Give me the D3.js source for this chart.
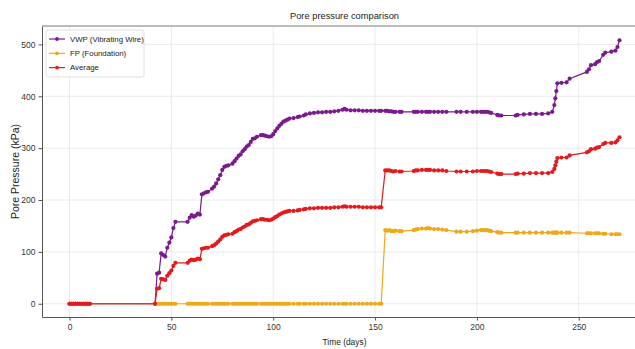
<!DOCTYPE html>
<html>
<head>
<meta charset="utf-8">
<script src="https://cdn.jsdelivr.net/npm/d3@7"></script>
<style>
  body { margin: 0; background: #fff; }
  svg { display: block; font-family: "Liberation Sans", Arial, sans-serif; }
</style>
</head>
<body>
<div id="poreChart"></div>
<script>
// sample days and readings (kPa)
var days = [0,1,2,3,4,5,6,7,8,9,10,42,43,44,45,46,47,48,49,50,51,52,
    58,59,60,61,62,63,64,65,66,67,68,70,71,72,73,74,75,76,77,78,80,81,82,83,84,85,86,87,88,89,90,91,92,
    94,95,96,97,98,99,100,101,102,103,104,105,106,107,108,110,112,113,115,116,118,120,122,124,126,128,
    130,132,134,135,136,138,140,142,144,146,148,150,152,153,
    155,156,157,158,159,160,162,163,169,170,171,173,175,176,177,179,181,183,185,
    190,192,195,198,200,202,203,204,205,206,207,210,211,212,219,220,223,226,229,232,235,237,
    238,238.5,239,239.5,241.5,244,245.5,254,255,256,258,259,260,262,263,266,268,269,270];

var vwp = [0,0,0,0,0,0,0,0,0,0,0,0,58,60,97,94,91,108,118,128,146,158,
    158,166,171,168,170,174,172,211,213,215,216,222,226,232,240,248,258,264,266,267,270,275,280,285,288,294,298,303,306,312,318,319,322,
    325,325,324,323,322,323,327,333,338,343,347,351,353,355,357,358,360,361,363,365,367,368,369,369,370,370,
    371,372,374,376,374,373,373,373,372,372,372,372,372,372,
    372,372,371,371,370,370,370,370,370,370,370,370,370,370,370,370,370,370,370,
    370,370,370,370,370,370,370,370,370,369,368,364,363,363,363,364,365,366,366,366,367,370,
    383,396,410,425,426,427,434,447,452,460,462,466,468,480,484,486,488,495,508];

var fp = [0,0,0,0,0,0,0,0,0,0,0,0,0,0,0,0,0,0,0,0,0,0,
    0,0,0,0,0,0,0,0,0,0,0,0,0,0,0,0,0,0,0,0,0,0,0,0,0,0,0,0,0,0,0,0,0,
    0,0,0,0,0,0,0,0,0,0,0,0,0,0,0,0,0,0,0,0,0,0,0,0,0,0,
    0,0,0,0,0,0,0,0,0,0,0,0,0,0,
    142,141,142,140,140,141,140,140,142,143,144,145,145,146,145,144,144,143,142,
    139,139,139,140,141,142,142,142,142,141,140,138,137,137,137,137,137,137,137,137,137,137,
    137,137,137,137,137,137,137,136,136,136,136,136,136,135,135,134,134,134,134];

var average = [0,0,0,0,0,0,0,0,0,0,0,0,29,30,48,47,46,54,59,64,73,79,
    79,83,85,84,85,87,86,106,107,108,108,111,113,116,120,124,129,132,133,134,135,138,140,143,144,147,149,152,153,156,159,160,161,
    163,163,162,162,161,162,164,167,169,172,174,176,177,178,179,179,180,181,182,183,184,184,185,185,185,185,
    186,186,187,188,187,187,187,187,186,186,186,186,186,186,
    257,257,257,256,255,256,255,255,256,257,257,258,258,258,258,257,257,257,256,
    255,255,255,255,256,256,256,256,256,255,254,251,250,250,250,251,251,252,252,252,252,254,
    260,267,274,281,282,282,286,292,294,298,299,301,302,308,310,310,311,315,321];

var seriesNames = ["VWP (Vibrating Wire)", "FP (Foundation)", "Average"];
var seriesColors = ["#7a1a8c", "#f0a818", "#e41a1c"];
var xTicks = [0, 50, 100, 150, 200, 250];
var yTicks = [0, 100, 200, 300, 400, 500];

var width = 635, height = 349;
var margin = { top: 26, right: -12, bottom: 32, left: 42 };
var plotW = width - margin.left - margin.right,
    plotH = height - margin.top - margin.bottom;

var svg = d3.select("#poreChart")
    .append("svg")
    .attr("width", width)
    .attr("height", height);

// matplotlib style 5% margins around the data
var x = d3.scaleLinear()
    .domain([-13.5, 283.5])
    .range([0, plotW]);
var y = d3.scaleLinear()
    .domain([-25.5, 535.5])
    .range([plotH, 0]);

var g = svg.append("g")
    .attr("transform", "translate(" + margin.left + "," + margin.top + ")");

svg.append("defs").append("clipPath")
    .attr("id", "plotClip")
    .append("rect")
    .attr("width", plotW)
    .attr("height", plotH);

// grid
g.append("g")
    .selectAll("line.vgrid")
    .data(xTicks)
    .join("line")
    .attr("x1", d => x(d)).attr("x2", d => x(d))
    .attr("y1", 0).attr("y2", plotH)
    .attr("stroke", "#e6e6e6").attr("stroke-width", 0.8);
g.append("g")
    .selectAll("line.hgrid")
    .data(yTicks)
    .join("line")
    .attr("x1", 0).attr("x2", plotW)
    .attr("y1", d => y(d)).attr("y2", d => y(d))
    .attr("stroke", "#e6e6e6").attr("stroke-width", 0.8);

// axes
var xAxis = g.append("g")
    .attr("transform", "translate(0," + plotH + ")")
    .call(d3.axisBottom(x).tickValues(xTicks).tickSize(3.5).tickPadding(3).tickSizeOuter(0));
var yAxis = g.append("g")
    .call(d3.axisLeft(y).tickValues(yTicks).tickSize(3.5).tickPadding(3).tickSizeOuter(0));
[xAxis, yAxis].forEach(function(a) {
    a.select(".domain").attr("stroke", "#555").attr("stroke-width", 1);
    a.selectAll(".tick line").attr("stroke", "#555");
    a.selectAll(".tick text").attr("fill", "#333").style("font-size", "8.5px");
});

// top spine
g.append("line")
    .attr("x1", 0).attr("x2", plotW)
    .attr("y1", 0).attr("y2", 0)
    .attr("stroke", "#777").attr("stroke-width", 1);

var allSeries = [vwp, fp, average];
var line = d3.line()
    .x((d, i) => x(days[i]))
    .y(d => y(d));

var plot = g.append("g").attr("clip-path", "url(#plotClip)");

allSeries.forEach(function(values, s) {
    plot.append("path")
        .datum(values)
        .attr("fill", "none")
        .attr("stroke", seriesColors[s])
        .attr("stroke-width", 1.2)
        .attr("d", line);
    plot.append("g")
        .selectAll("circle")
        .data(values)
        .join("circle")
        .attr("cx", (d, i) => x(days[i]))
        .attr("cy", d => y(d))
        .attr("r", 2.1)
        .attr("fill", seriesColors[s]);
});

// legend
var legend = g.append("g").attr("transform", "translate(4,4)");
legend.append("rect")
    .attr("width", 98).attr("height", 47)
    .attr("fill", "#fff").attr("fill-opacity", 0.85)
    .attr("stroke", "#d8d8d8").attr("stroke-width", 0.8).attr("rx", 2);
seriesNames.forEach(function(name, i) {
    var row = legend.append("g").attr("transform", "translate(0," + (9 + i * 14.3) + ")");
    row.append("line")
        .attr("x1", 3).attr("x2", 19)
        .attr("stroke", seriesColors[i]).attr("stroke-width", 1.2);
    row.append("circle")
        .attr("cx", 11).attr("r", 1.9).attr("fill", seriesColors[i]);
    row.append("text")
        .attr("x", 24).attr("dy", "0.35em")
        .style("font-size", "7.8px").attr("fill", "#222")
        .text(name);
});

// title and labels
svg.append("text")
    .attr("x", margin.left + plotW / 2).attr("y", 19)
    .attr("text-anchor", "middle")
    .style("font-size", "9.3px").attr("fill", "#222")
    .text("Pore pressure comparison");
svg.append("text")
    .attr("x", margin.left + plotW / 2).attr("y", 345)
    .attr("text-anchor", "middle")
    .style("font-size", "8.4px").attr("fill", "#222")
    .text("Time (days)");
svg.append("text")
    .attr("transform", "translate(19," + (margin.top + plotH / 2) + ") rotate(-90)")
    .attr("text-anchor", "middle")
    .style("font-size", "10.5px").attr("fill", "#222")
    .text("Pore Pressure (kPa)");
</script>
</body>
</html>
